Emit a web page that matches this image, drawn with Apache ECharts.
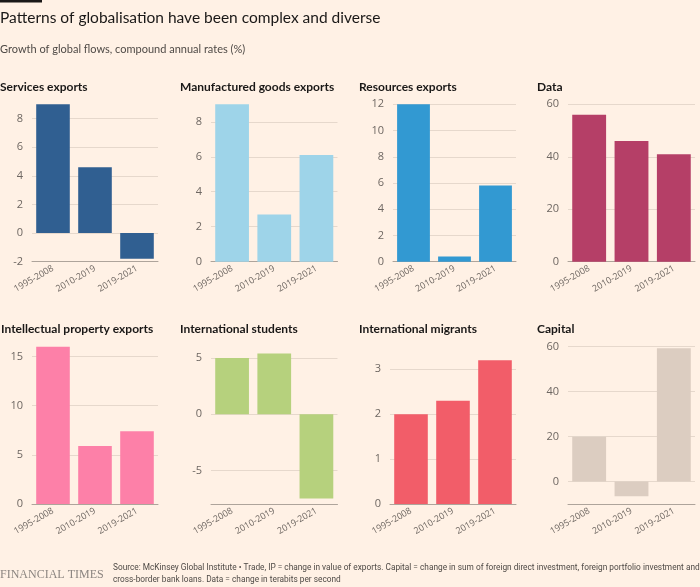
<!DOCTYPE html>
<html>
<head>
<meta charset="utf-8">
<script src="https://cdn.jsdelivr.net/npm/echarts@6/dist/echarts.min.js"></script>
<style>
html,body{margin:0;padding:0;background:#fff1e5;}
#c{width:700px;height:587px;}
</style>
</head>
<body>
<div id="c"></div>
<script>
// ---- data ----
var categories = ['1995-2008', '2010-2019', '2019-2021'];
var titles = ['Services exports', 'Manufactured goods exports', 'Resources exports', 'Data',
              'Intellectual property exports', 'International students', 'International migrants', 'Capital'];
var servicesExports = [9.0, 4.6, -1.8];
var manufacturedExports = [9.0, 2.7, 6.1];
var resourcesExports = [12.0, 0.4, 5.8];
var dataFlows = [56, 46, 41];
var ipExports = [16.0, 5.9, 7.4];
var intlStudents = [5.0, 5.4, -7.5];
var intlMigrants = [2.0, 2.3, 3.2];
var capitalFlows = [20, -6.5, 59.3];
var seriesValues = [servicesExports, manufacturedExports, resourcesExports, dataFlows,
                    ipExports, intlStudents, intlMigrants, capitalFlows];
// y-axis ranges and tick steps
var yMin = [-2, 0, 0, 0, 0, -8, 0, -10];
var yMax = [9, 9, 12, 60, 16, 6, 3.5, 60];
var yStep = [2, 2, 2, 20, 5, 5, 1, 20];

// ---- style ----
var colors = ['#305f91', '#9ed4e9', '#3299d2', '#b53f67', '#fd80a8', '#b6d17d', '#f25d69', '#dccdc1'];
var gridLeft = [32, 211, 393, 568, 32, 211, 390, 568];
var gridRight = [158, 337.5, 516, 695, 158, 337.5, 516, 695];
var rowTop = [104.3, 346.7];
var rowH = 157.4;
var titleX = [0, 180, 359, 537, 1, 180, 359, 537];
var titleY = [89, 331];

var grids = [], xAxes = [], yAxes = [], series = [], graphics = [];
for (var i = 0; i < 8; i++) {
  var row = i < 4 ? 0 : 1;
  grids.push({left: gridLeft[i], top: rowTop[row], width: gridRight[i] - gridLeft[i], height: rowH, containLabel: false});
  xAxes.push({
    type: 'category', gridIndex: i, data: categories,
    axisLine: {onZero: false, lineStyle: {color: '#aea49b', width: 1}},
    axisTick: {alignWithLabel: true, length: 5, lineStyle: {color: '#aea49b'}},
    axisLabel: {rotate: 30, fontSize: 9, color: '#6e6762', margin: 6, fontFamily: 'Open Sans', interval: 0}
  });
  var minHidden = (yMin[i] % yStep[i]) !== 0;
  var maxHidden = (yMax[i] % yStep[i]) !== 0;
  yAxes.push({
    type: 'value', gridIndex: i, min: yMin[i], max: yMax[i],
    minInterval: yStep[i], maxInterval: yStep[i], splitNumber: 3,
    axisLine: {show: false}, axisTick: {show: false},
    axisLabel: {fontSize: 11, color: '#6e6762', margin: 9, fontFamily: 'Open Sans',
                showMinLabel: !minHidden, showMaxLabel: !maxHidden},
    splitLine: {lineStyle: {color: '#e6d8cc', width: 1}, showMinLine: false, showMaxLine: !maxHidden}
  });
  series.push({
    type: 'bar', xAxisIndex: i, yAxisIndex: i, data: seriesValues[i],
    barCategoryGap: '20%', itemStyle: {color: colors[i]}, silent: true
  });
  graphics.push({
    type: 'text', left: titleX[i], top: titleY[row] - 7.5,
    style: {text: titles[i], fontSize: 12, fontWeight: 'bold', fill: '#1a1817', fontFamily: 'Lato'}
  });
}

graphics.push({type: 'rect', left: 0, top: 0, shape: {width: 42, height: 2.5}, style: {fill: '#1a1817'}});
graphics.push({type: 'text', left: 0, top: 10,
  style: {text: 'Patterns of globalisation have been complex and diverse', fontSize: 15.5, fill: '#1a1817', fontFamily: 'Lato'}});
graphics.push({type: 'text', left: 0, top: 44,
  style: {text: 'Growth of global flows, compound annual rates (%)', fontSize: 11, fill: '#4f4a46', fontFamily: 'Lato'}});
graphics.push({type: 'text', left: 0, top: 569,
  style: {text: 'FINANCIAL TIMES', fontSize: 12, fill: '#8c8580', fontFamily: 'Liberation Serif'}});
graphics.push({type: 'text', left: 113, top: 562,
  style: {text: 'Source: McKinsey Global Institute \u2022 Trade, IP = change in value of exports. Capital = change in sum of foreign direct investment, foreign portfolio investment and\ncross-border bank loans. Data = change in terabits per second',
          fontSize: 8.3, lineHeight: 12, fill: '#4f4a46', fontFamily: 'Roboto'}});

var chart = echarts.init(document.getElementById('c'), null, {renderer: 'canvas'});
chart.setOption({
  backgroundColor: '#fff1e5',
  animation: false,
  grid: grids, xAxis: xAxes, yAxis: yAxes, series: series, graphic: graphics
});
</script>
</body>
</html>
